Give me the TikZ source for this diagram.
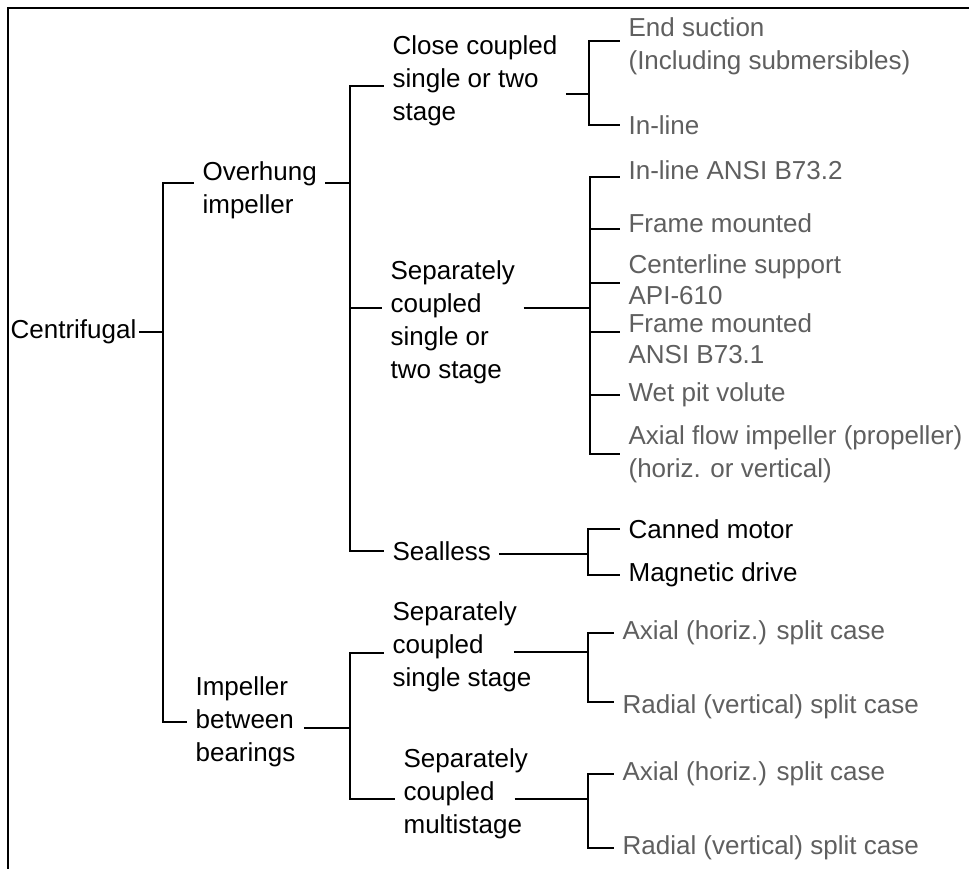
\documentclass[tikz,border=0pt]{standalone}
\usepackage{fontspec}
\setmainfont{Liberation Sans}
\usepackage{xcolor}
\definecolor{leafGray}{RGB}{95,95,95}

\begin{document}
\begin{tikzpicture}[x=1pt, y=-1pt, line width=1.2pt,
  lbl/.style={anchor=west, align=left, inner xsep=8pt, inner ysep=0pt, font=\fontsize{26}{33}\selectfont},
  leaf/.style={lbl, text=leafGray}]
 	\useasboundingbox (0,0) rectangle (969,869);
 	\draw[line width=2.5pt] (8,869) -- (8,8) -- (969,8);
 	\node[lbl, inner xsep=2pt] (C) at (8,332) {Centrifugal};
 	\node[lbl] (OH) at (194,190) {Overhung\\impeller};
 	\node[lbl] (IB) at (187,722) {Impeller\\between\\bearings};
 	\node[lbl] (CC) at (384,81) {Close coupled\\single or two\\stage};
 	\node[lbl] (SC) at (382,322) {Separately\\coupled\\single or\\two stage};
 	\node[lbl] (SL) at (384,551) {Sealless};
 	\node[lbl] (SS) at (384,647) {Separately\\coupled\\single stage};
 	\node[lbl] (SM) at (395,794) {Separately\\coupled\\multistage};
 	\node[leaf] (ES) at (620,46) {End suction\\(Including submersibles)};
 	\node[leaf] (IL) at (620,125) {In-line};
 	\node[leaf] (IA) at (620,170) {In-line ANSI B73.2};
 	\node[leaf] (FM) at (620,223) {Frame mounted};
 	\node[leaf, font=\fontsize{26}{31}\selectfont] (CS) at (620,280) {Centerline support\\API-610};
 	\node[leaf, font=\fontsize{26}{31}\selectfont] (FA) at (620,339) {Frame mounted\\ANSI B73.1};
 	\node[leaf] (WP) at (620,395) {Wet pit volute};
 	\node[leaf] (AF) at (620,454) {Axial flow impeller (propeller)\\(horiz. or vertical)};
 	\node[lbl] (CM) at (620,529) {Canned motor};
 	\node[lbl] (MD) at (620,575) {Magnetic drive};
 	\node[leaf] (AH1) at (614,633) {Axial (horiz.) split case};
 	\node[leaf] (RV1) at (614,707) {Radial (vertical) split case};
 	\node[leaf] (AH2) at (614,774) {Axial (horiz.) split case};
 	\node[leaf] (RV2) at (614,848) {Radial (vertical) split case};
 	\coordinate (J0) at (163,332);
 	\coordinate (J1) at (350,183);
 	\coordinate (J2) at (350,728);
 	\coordinate (J3) at (589,94);
 	\coordinate (J4) at (590,308);
 	\coordinate (J5) at (588,554);
 	\coordinate (J6) at (588,652);
 	\coordinate (J7) at (588,799);
 	\draw (C.east) -- (J0);
 	\draw (J0) |- ([shift={(0,-7)}]OH.west);
 	\draw (J0) |- (IB.west);
 	\draw ([shift={(0,-7)}]OH.east) -- (J1);
 	\draw (J1) |- ([shift={(0,5)}]CC.west);
 	\draw (J1) |- ([shift={(0,-14)}]SC.west);
 	\draw (J1) |- (SL.west);
 	\draw ([shift={(0,6)}]IB.east) -- (J2);
 	\draw (J2) |- ([shift={(0,6)}]SS.west);
 	\draw (J2) |- ([shift={(0,5)}]SM.west);
 	\draw ([shift={(0,13)}]CC.east) -- (J3);
 	\draw (J3) |- ([shift={(0,-5)}]ES.west);
 	\draw (J3) |- (IL.west);
 	\draw ([shift={(0,-14)}]SC.east) -- (J4);
 	\draw (J4) |- ([shift={(0,7)}]IA.west);
 	\draw (J4) |- ([shift={(0,6)}]FM.west);
 	\draw (J4) |- ([shift={(0,3)}]CS.west);
 	\draw (J4) |- ([shift={(0,-7)}]FA.west);
 	\draw (J4) |- (WP.west);
 	\draw (J4) |- (AF.west);
 	\draw ([shift={(0,3)}]SL.east) -- (J5);
 	\draw (J5) |- (CM.west);
 	\draw (J5) |- (MD.west);
 	\draw ([shift={(-26,5)}]SS.east) -- (J6);
 	\draw (J6) |- (AH1.west);
 	\draw (J6) |- ([shift={(0,-5)}]RV1.west);
 	\draw ([shift={(-22,5)}]SM.east) -- (J7);
 	\draw (J7) |- (AH2.west);
 	\draw (J7) |- (RV2.west);
\end{tikzpicture}
\end{document}
